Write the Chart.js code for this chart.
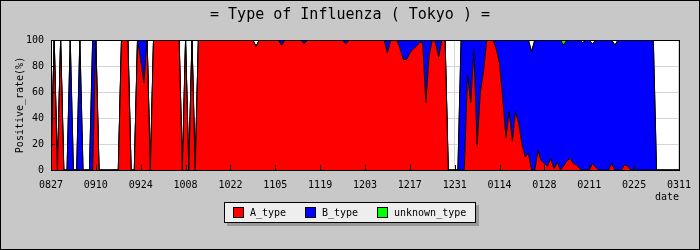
<!DOCTYPE html>
<html><head><meta charset="utf-8">
<script src="https://cdn.jsdelivr.net/npm/chart.js@4.4.1/dist/chart.umd.min.js"></script>
<style>html,body{margin:0;padding:0;background:#c8c8c8;}canvas{display:block}</style>
</head><body>
<canvas id="c" width="700" height="250"></canvas>
<script>
const TITLE = '= Type of Influenza ( Tokyo ) =';
const Y_TITLE = 'Positive_rate(%)';
const X_TITLE = 'date';
const tickLabels = ['0827','0910','0924','1008','1022','1105','1119','1203','1217','1231','0114','0128','0211','0225','0311'];
const seriesNames = ['A_type','B_type','unknown_type'];
const seriesColors = ['#ff0000','#0000ff','#00ff00'];

// daily values, one per day starting 08/27
const aType = [
0,100,0,100,0,0,0,0,0,0,
0,0,0,0,100,0,0,0,0,0,
0,0,100,100,100,0,0,100,85,67,
100,0,100,100,100,100,100,100,100,100,
100,0,100,0,100,0,100,100,100,100,
100,100,100,100,100,100,100,100,100,100,
100,100,100,100,95,100,100,100,100,100,
100,100,96,100,100,100,100,100,100,97,
100,100,100,100,100,100,100,100,100,100,
100,100,97,100,100,100,100,100,100,100,
100,100,100,100,100,90,100,100,100,93,
85,85,90,93,95,98,98,52,88,100,
98,87,100,100,0,0,0,0,0,0,
74,52,92,19,60,76,100,100,100,93,
82,55,25,45,22,45,36,20,10,13,
0,0,15,7,5,3,9,1,6,0,
3,7,9,5,4,1,0,0,0,5,
2,0,0,0,0,5,0,0,0,4,
3,0,0,0,0,0,0,0,0,0,
0,0,0,0,0,0,0];
const bType = [
0,0,0,0,0,0,100,0,0,100,
0,0,0,100,0,0,0,0,0,0,
0,0,0,0,0,0,0,0,15,33,
0,0,0,0,0,0,0,0,0,0,
0,0,0,0,0,0,0,0,0,0,
0,0,0,0,0,0,0,0,0,0,
0,0,0,0,0,0,0,0,0,0,
0,0,4,0,0,0,0,0,0,3,
0,0,0,0,0,0,0,0,0,0,
0,0,3,0,0,0,0,0,0,0,
0,0,0,0,0,10,0,0,0,7,
15,15,10,7,5,2,2,48,12,0,
2,13,0,0,0,0,0,0,100,100,
26,48,8,81,40,24,0,0,0,7,
18,45,75,55,78,55,64,80,90,87,
91,100,85,93,95,97,91,99,94,100,
93,93,91,95,96,99,98,100,100,92,
98,100,100,100,100,95,96,100,100,96,
97,100,100,100,100,100,100,100,100,0,
0,0,0,0,0,0,0];
const unknownType = [
0,0,0,0,0,0,0,0,0,0,
0,0,0,0,0,0,0,0,0,0,
0,0,0,0,0,0,0,0,0,0,
0,0,0,0,0,0,0,0,0,0,
0,0,0,0,0,0,0,0,0,0,
0,0,0,0,0,0,0,0,0,0,
0,0,0,0,0,0,0,0,0,0,
0,0,0,0,0,0,0,0,0,0,
0,0,0,0,0,0,0,0,0,0,
0,0,0,0,0,0,0,0,0,0,
0,0,0,0,0,0,0,0,0,0,
0,0,0,0,0,0,0,0,0,0,
0,0,0,0,0,0,0,0,0,0,
0,0,0,0,0,0,0,0,0,0,
0,0,0,0,0,0,0,0,0,0,
0,0,0,0,0,0,0,0,0,0,
4,0,0,0,0,0,0,0,0,0,
0,0,0,0,0,0,0,0,0,0,
0,0,0,0,0,0,0,0,0,0,
0,0,0,0,0,0,0];

const MONO = "'DejaVu Sans Mono','Liberation Mono',monospace";
const allSeries = [aType, bType, unknownType];

const datasets = allSeries.map((arr, k) => ({
  label: seriesNames[k],
  data: arr.map((v, i) => ({x: i, y: v})),
  backgroundColor: seriesColors[k],
  borderColor: '#000000',
  borderWidth: 1,
  pointRadius: 0,
  tension: 0,
  fill: k === 0 ? 'origin' : '-1'
}));

const deco = {
  id: 'deco',
  beforeDraw(chart) {
    const {ctx, chartArea: a} = chart;
    ctx.save();
    ctx.fillStyle = '#c8c8c8';
    ctx.fillRect(0, 0, chart.width, chart.height);
    ctx.fillStyle = '#ffffff';
    ctx.fillRect(a.left, a.top, a.right - a.left, a.bottom - a.top);
    ctx.restore();
  },
  afterDraw(chart) {
    const {ctx, chartArea: a} = chart;
    const xs = chart.scales.x, ys = chart.scales.y;
    ctx.save();
    ctx.strokeStyle = '#000';
    ctx.lineWidth = 1;
    // plot frame
    ctx.strokeRect(Math.round(a.left) + 0.5, Math.round(a.top) + 0.5, Math.round(a.right - a.left), Math.round(a.bottom - a.top));
    // inner ticks
    ctx.beginPath();
    xs.ticks.forEach(t => {
      const px = Math.round(xs.getPixelForValue(t.value)) + 0.5;
      ctx.moveTo(px, a.bottom); ctx.lineTo(px, a.bottom - 5);
    });
    ys.ticks.forEach(t => {
      const py = Math.round(ys.getPixelForValue(t.value)) + 0.5;
      ctx.moveTo(a.left, py); ctx.lineTo(a.left + 4, py);
    });
    ctx.stroke();
    // title
    ctx.fillStyle = '#000';
    ctx.font = '15px ' + MONO;
    ctx.textAlign = 'center';
    ctx.textBaseline = 'middle';
    ctx.fillText(TITLE, 350, 15);
    // axis titles
    ctx.font = '10px ' + MONO;
    ctx.textAlign = 'right';
    ctx.fillText(X_TITLE, a.right, 197);
    ctx.save();
    ctx.translate(20, 105);
    ctx.rotate(-Math.PI / 2);
    ctx.textAlign = 'center';
    ctx.fillText(Y_TITLE, 0, 0);
    ctx.restore();
    // legend
    const lx = 224, ly = 202, lw = 252, lh = 21;
    ctx.fillStyle = '#999999';
    ctx.fillRect(lx + 3, ly + 3, lw, lh);
    ctx.fillStyle = '#eeeeee';
    ctx.fillRect(lx, ly, lw, lh);
    ctx.strokeRect(lx + 0.5, ly + 0.5, lw - 1, lh - 1);
    const swX = [233, 305, 377];
    ctx.textAlign = 'left';
    ctx.textBaseline = 'middle';
    chart.data.datasets.forEach((ds, k) => {
      ctx.fillStyle = ds.backgroundColor;
      ctx.fillRect(swX[k], 207, 10, 11);
      ctx.strokeStyle = '#000';
      ctx.strokeRect(swX[k] + 0.5, 207.5, 10, 10);
      ctx.fillStyle = '#000';
      ctx.fillText(ds.label, swX[k] + 17, 213);
    });
    // outer border
    ctx.strokeRect(0.5, 0.5, chart.width - 1, chart.height - 1);
    ctx.restore();
  }
};

new Chart(document.getElementById('c'), {
  type: 'line',
  data: {datasets},
  options: {
    responsive: false,
    devicePixelRatio: 1,
    animation: false,
    events: [],
    layout: {padding: {left: 0, right: 19, top: 40, bottom: 50}},
    plugins: {legend: {display: false}, title: {display: false}, tooltip: {enabled: false}},
    scales: {
      x: {
        type: 'linear', min: 0, max: 196,
        afterFit: s => { s.height = 30; },
        ticks: {stepSize: 14, autoSkip: false, maxRotation: 0, padding: 9, color: '#000',
          font: {family: MONO, size: 10},
          callback: v => tickLabels[v / 14]},
        grid: {color: '#d4d4d4', drawTicks: false},
        border: {display: true, color: '#000'}
      },
      y: {
        stacked: true, min: 0, max: 100,
        afterFit: s => { s.width = 51; },
        ticks: {stepSize: 10, padding: 7, color: '#000', font: {family: MONO, size: 10},
          callback: v => (v % 20 === 0 ? String(v) : '')},
        grid: {color: c => (c.tick && c.tick.value % 20 === 0 ? '#d4d4d4' : 'rgba(0,0,0,0)'), drawTicks: false},
        border: {display: true, color: '#000'}
      }
    }
  },
  plugins: [deco]
});
</script>
</body></html>
